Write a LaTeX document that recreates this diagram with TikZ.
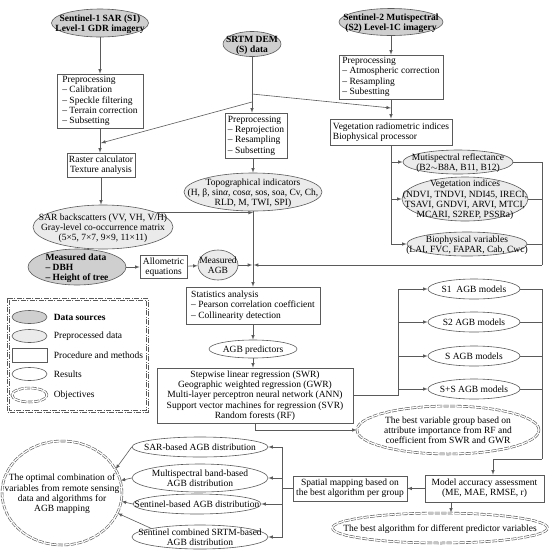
\documentclass[tikz,border=0pt]{standalone}
\usepackage{fontspec}
\setmainfont{Liberation Serif}
\usepackage{xcolor}
\usepackage{tikz}
\usetikzlibrary{shapes,arrows,positioning,fit}

\definecolor{srcgray}{HTML}{CFCFCF}
\definecolor{pregray}{HTML}{EBEBEB}
\definecolor{linegray}{HTML}{5A5A5A}

% text that may run over the border of an oval, as in the figure
\newcommand{\otext}[1]{\smash{\raisebox{-3.6pt}{\makebox[0pt]{\begin{tabular}{@{}c@{}}#1\end{tabular}}}}}
\newcommand{\ltext}[1]{\smash{\raisebox{-3.6pt}{\makebox[0pt]{\begin{tabular}{@{}l@{}}#1\end{tabular}}}}}

\begin{document}
\begin{tikzpicture}[
    x=1pt, y=-1pt,
    every node/.style={font=\fontsize{9.5}{10.3}\selectfont},
    line/.style={draw=linegray, line width=0.6pt},
    arrow/.style={line, ->, >=latex},
    box/.style 2 args={draw=linegray, line width=0.6pt, rectangle, inner xsep=2pt, inner ysep=1pt, minimum width=#1, minimum height=#2},
    oval/.style 2 args={draw=linegray, line width=0.6pt, ellipse, inner sep=0pt, minimum width=#1, minimum height=#2},
    source/.style={fill=srcgray, font=\fontsize{9.5}{10.3}\selectfont\bfseries},
    prep/.style={fill=pregray},
    goal/.style={double=white, double distance=1.3pt, dash pattern=on 5pt off 1.5pt},
    frame/.style={draw=linegray, line width=0.6pt, dash pattern=on 5pt off 1.5pt on 1pt off 1.5pt}
]
    \useasboundingbox (0,0) rectangle (550,550);

    % data sources
    \node[oval={97}{28}, source] (s1) at (100,23) {\otext{Sentinel-1 SAR (S1)\\Level-1 GDR imagery}};
    \node[oval={58}{25}, source] (srtm) at (252,44) {\otext{SRTM DEM\\(S) data}};
    \node[oval={104}{27}, source] (s2) at (391,22) {\otext{Sentinel-2 Mutispectral\\(S2) Level-1C imagery}};

    % preprocessing
    \node[box={86}{54}, align=left] (pre1) at (100,101) {Preprocessing\\– Calibration\\– Speckle filtering\\– Terrain correction\\– Subsetting};
    \node[box={62}{45}, align=left] (pre3) at (256,135.5) {Preprocessing\\– Reprojection\\– Resampling\\– Subsetting};
    \node[box={104}{44}, align=left] (pre2) at (391,77) {Preprocessing\\– Atmospheric correction\\– Resampling\\– Subestting};
    \node[box={122}{26}, align=left] (veg) at (391,132) {Vegetation radiometric indices\\Biophysical processor};
    \node[box={68}{24}, align=center] (raster) at (101,165) {Raster calculator\\Texture analysis};

    % preprocessed data
    \node[oval={140}{44}, prep] (sar) at (103,227) {\otext{SAR backscatters (VV, VH, V/H)\\Gray-level co-occurrence matrix\\(5×5, 7×7, 9×9, 11×11)}};
    \node[oval={138}{38}, prep] (topo) at (253,192) {\otext{Topographical indicators\\(H, β, sin\textit{α}, cos\textit{α}, sos, soa, Cv, Ch,\\RLD, M, TWI, SPI)}};
    \node[oval={110}{24}, prep] (mspec) at (458,162) {\otext{Mutispectral reflectance\\(B2$\sim$B8A, B11, B12)}};
    \node[oval={126}{44}, prep] (vind) at (465,199) {\otext{Vegetation indices\\(NDVI, TNDVI, NDI45, IRECI,\\TSAVI, GNDVI, ARVI, MTCI,\\MCARI, S2REP, PSSRa)}};
    \node[oval={120}{24}, prep] (bio) at (467,244) {\otext{Biophysical variables\\(LAI, FVC, FAPAR, Cab, Cwc)}};

    % field data
    \node[oval={98}{36}, source] (meas) at (77,267) {\ltext{Measured data\\– DBH\\– Height of tree}};
    \node[box={47}{23}, align=center] (allo) at (163.5,267) {Allometric\\equations};
    \node[oval={40}{30}, prep] (magb) at (218,265) {\otext{Measured\\AGB}};

    % modelling
    \node[box={134}{37}, align=left] (stats) at (253,305.5) {Statistics analysis\\– Pearson correlation coefficient\\– Collinearity detection};
    \node[oval={88}{18}] (pred) at (253,349) {\otext{AGB predictors}};
    \node[box={196}{55}, align=center] (meth) at (255,395.5) {Stepwise linear regression (SWR)\\Geographic weighted regression (GWR)\\Multi-layer perceptron neural network (ANN)\\Support vector machines for regression (SVR)\\Random forests (RF)};

    \node[oval={92}{20}] (m1) at (474,289) {\otext{S1\ \ AGB models}};
    \node[oval={92}{20}] (m2) at (474,322) {\otext{S2 AGB models}};
    \node[oval={92}{20}] (m3) at (474,356) {\otext{S AGB models}};
    \node[oval={92}{20}] (m4) at (474,389) {\otext{S+S AGB models}};

    \node[oval={182}{48}, goal] (bv) at (448,430) {\otext{The best variable group based on\\attribute importance from RF and\\coefficient from SWR and GWR}};
    \node[box={119}{27}, align=center] (acc) at (484.5,488.5) {Model accuracy assessment\\(ME, MAE, RMSE, r)};
    \node[box={114}{25}, align=center] (spat) at (350,488.5) {Spatial mapping based on\\the best algorithm per group};
    \node[oval={215}{30}, goal] (ba) at (440,528) {\otext{The best algorithm for different predictor variables}};

    % mapping results
    \node[oval={136}{20}] (d1) at (200,447) {\otext{SAR-based AGB distribution}};
    \node[oval={136}{28}] (d2) at (200,478) {\otext{Multispectral band-based\\AGB distribution}};
    \node[oval={128}{20}] (d3) at (197,504) {\otext{Sentinel-based AGB distribution}};
    \node[oval={136}{24}] (d4) at (200,537) {\otext{Sentinel combined SRTM-based\\AGB distribution}};
    \node[oval={120}{104}, goal] (opt) at (62,493) {\otext{The optimal combination of\\variables from remote sensing\\data and algorithms for\\AGB mapping}};

    % legend
    \draw[frame] (7,298) rectangle (148,412);
    \draw[frame] (9,300) rectangle (146,410);
    \node[oval={35}{13}, source] (k1) at (29.5,317) {};
    \node[oval={35}{13}, prep] (k2) at (29.5,336) {};
    \node[box={35}{14}, inner sep=0pt] (k3) at (29.5,355) {};
    \node[oval={35}{13}] (k4) at (29.5,374) {};
    \node[oval={35}{14}, goal] (k5) at (29.5,395) {};
    \node[right=3pt of k1, font=\fontsize{9.5}{10.3}\selectfont\bfseries] (t1) {Data sources};
    \node[right=3pt of k2] (t2) {Preprocessed data};
    \node[right=3pt of k3] (t3) {Procedure and methods};
    \node[right=3pt of k4] (t4) {Results};
    \node[right=3pt of k5] (t5) {Objectives};

    % connectors, top part
    \coordinate (j1) at (252,94);
    \coordinate (j2) at (252,102);
    \coordinate (vt) at (391,108);
    \coordinate (rt) at (101,143);
    \draw[arrow] (s1.south) -- (s1.south |- pre1.north);
    \draw[arrow] (pre1.south) -- (pre1.south |- raster.north);
    \draw[arrow] (raster.south) -- (raster.south |- sar.north);
    \draw[arrow] (srtm.south) -- (srtm.south |- pre3.north);
    \draw[arrow] (j1) -- (vt);
    \draw[arrow] (j2) -- (rt);
    \draw[arrow] (s2) -- (pre2);
    \draw[arrow] (pre2) -- (veg);
    \draw[arrow] (topo.north |- pre3.south) -- (topo.north);
    \draw[arrow] (topo) -- (stats);
    \draw[arrow] (sar.15) -- (sar.15 -| topo.south);

    % field data
    \draw[arrow] (meas) -- (allo);
    \draw[arrow] (allo) -- (magb);
    \draw[arrow] (magb.east) -- ([xshift=-0.7pt]magb.east -| stats.north);

    % Sentinel-2 products
    \coordinate (rb) at (542,265);
    \draw[arrow] (veg.south) |- (bio.west);
    \draw[arrow] (veg.south |- mspec.west) -- (mspec.west);
    \draw[arrow] (veg.south |- vind.west) -- (vind.west);
    \draw[line] (mspec.east) -| (rb);
    \draw[line] (vind.east) -- (vind.east -| rb);
    \draw[line] (bio.east) -- (bio.east -| rb);
    \draw[arrow] (rb) -- ([xshift=0.7pt]rb -| stats.north);

    % modelling
    \draw[arrow] (stats) -- (pred);
    \draw[arrow] (pred.south) -- (pred.south |- meth.north);
    \coordinate (lb) at (398,395.5);
    \draw[line] (meth.east) -- (lb);
    \draw[arrow] (lb) |- (m1.west);
    \draw[arrow] (lb |- m2.west) -- (m2.west);
    \draw[arrow] (lb |- m3.west) -- (m3.west);
    \draw[arrow] (lb |- m4.west) -- (m4.west);
    \coordinate (rb2) at (542,459);
    \coordinate (ka) at (493,459);
    \draw[line] (m1.east) -| (rb2);
    \draw[line] (m2.east) -- (m2.east -| rb2);
    \draw[line] (m3.east) -- (m3.east -| rb2);
    \draw[line] (m4.east) -- (m4.east -| rb2);
    \draw[arrow] (rb2) -- (ka) -- (ka |- acc.north);
    \draw[arrow] (meth.south) |- (bv.west);
    \draw[arrow] (acc) -- (spat);
    \draw[arrow] ([xshift=-33.5pt]acc.south) -- ([xshift=11pt]ba.north);

    % mapping
    \coordinate (lb2) at (282,488.5);
    \draw[line] (spat.west) -- (lb2);
    \draw[arrow] (lb2) |- (d1.east);
    \draw[arrow] (lb2 |- d2.east) -- (d2.east);
    \draw[arrow] (lb2 |- d3.east) -- (d3.east);
    \draw[arrow] (lb2) |- (d4.east);
    \draw[arrow] (d1.west) -- (opt.24);
    \draw[arrow] (d2.west) -- (opt.12);
    \draw[arrow] (d3.west) -- (opt.-8);
    \draw[arrow] (d4.170) -- (opt.-20);
\end{tikzpicture}
\end{document}
